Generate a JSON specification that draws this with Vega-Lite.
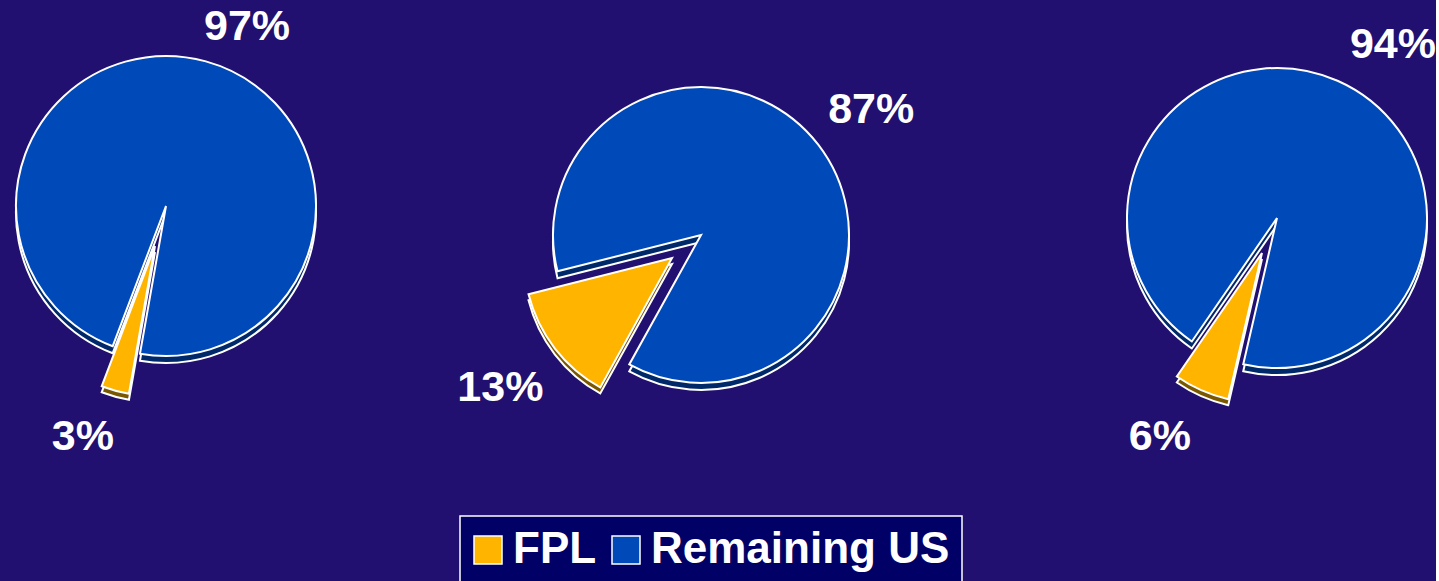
{
  "$schema": "https://vega.github.io/schema/vega-lite/v6.json",
  "background": "#21106f",
  "padding": {"left": 12, "top": 0, "right": 0, "bottom": 0},
  "bounds": "flush",
  "spacing": 276,
  "datasets": {
    "shares": [
      {"pie": "A", "series": "FPL", "value": 3, "label": "3%"},
      {"pie": "A", "series": "Remaining US", "value": 97, "label": "97%"},
      {"pie": "B", "series": "FPL", "value": 13, "label": "13%"},
      {"pie": "B", "series": "Remaining US", "value": 87, "label": "87%"},
      {"pie": "C", "series": "FPL", "value": 6, "label": "6%"},
      {"pie": "C", "series": "Remaining US", "value": 94, "label": "94%"}
    ]
  },
  "config": {
    "view": {"stroke": null},
    "legend": {
      "symbolType": "square",
      "symbolSize": 784,
      "symbolStrokeColor": "white",
      "symbolStrokeWidth": 1.5,
      "symbolOffset": -6,
      "labelColor": "white",
      "labelFont": "Liberation Sans",
      "labelFontSize": 44,
      "labelFontWeight": "bold",
      "labelLimit": 0,
      "labelOffset": 3,
      "columnPadding": 12,
      "padding": 12,
      "fillColor": "#000066",
      "strokeColor": "white",
      "strokeWidth": 1.5
    }
  },
  "hconcat": [
    {
      "width": 218,
      "height": 412,
      "data": {"name": "shares"},
      "transform": [
        {"filter": "datum.pie === 'A'"},
        {"stack": "value", "groupby": ["pie"], "sort": [{"field": "series", "order": "ascending"}], "as": ["t0", "t1"]}
      ],
      "resolve": {"scale": {"radius": "independent"}},
      "layer": [
        {
          "transform": [{"filter": "datum.series === 'Remaining US'"}],
          "mark": {"type": "arc", "radius": 150, "fill": "#00296a", "stroke": "white", "strokeWidth": 2, "yOffset": 7},
          "encoding": {
            "theta": {"field": "t0", "type": "quantitative", "scale": {"domain": [0, 100], "range": [3.3161, 9.5993]}},
            "theta2": {"field": "t1"}
          }
        },
        {
          "transform": [{"filter": "datum.series === 'FPL'"}],
          "mark": {"type": "arc", "radius": 150, "fill": "#7a5800", "stroke": "white", "strokeWidth": 2, "xOffset": -11, "yOffset": 46},
          "encoding": {
            "theta": {"field": "t0", "type": "quantitative", "scale": {"domain": [0, 100], "range": [3.3161, 9.5993]}},
            "theta2": {"field": "t1"}
          }
        },
        {
          "transform": [{"filter": "datum.series === 'Remaining US'"}],
          "mark": {"type": "arc", "radius": 150, "stroke": "white", "strokeWidth": 2},
          "encoding": {
            "theta": {"field": "t0", "type": "quantitative", "scale": {"domain": [0, 100], "range": [3.3161, 9.5993]}},
            "theta2": {"field": "t1"},
            "color": {"field": "series", "type": "nominal", "scale": {"domain": ["FPL", "Remaining US"], "range": ["#ffb400", "#0049b8"]}, "legend": {"orient": "none", "legendX": 403, "legendY": 516, "title": null, "direction": "horizontal"}}
          }
        },
        {
          "transform": [{"filter": "datum.series === 'FPL'"}],
          "mark": {"type": "arc", "radius": 150, "stroke": "white", "strokeWidth": 2, "xOffset": -11, "yOffset": 40},
          "encoding": {
            "theta": {"field": "t0", "type": "quantitative", "scale": {"domain": [0, 100], "range": [3.3161, 9.5993]}},
            "theta2": {"field": "t1"},
            "color": {"field": "series", "type": "nominal", "scale": {"domain": ["FPL", "Remaining US"], "range": ["#ffb400", "#0049b8"]}, "legend": {"orient": "none", "legendX": 403, "legendY": 516, "title": null, "direction": "horizontal"}}
          }
        },
        {
          "mark": {"type": "text", "dx": 29, "dy": 10, "font": "Liberation Sans", "fontSize": 43, "fontWeight": "bold", "fill": "white", "align": "center", "baseline": "middle"},
          "encoding": {
            "theta": {"field": "value", "type": "quantitative", "stack": true, "scale": {"domain": [0, 100], "range": [3.3161, 9.5993]}},
            "radius": {"field": "value", "type": "quantitative", "scale": {"type": "linear", "zero": false, "domain": [3, 97], "range": [0, 196]}},
            "detail": {"field": "series"},
            "order": {"field": "series", "sort": "ascending"},
            "text": {"condition": {"test": "datum.series === 'Remaining US'", "field": "label"}, "value": ""}
          }
        },
        {
          "mark": {"type": "text", "dx": -18, "dy": -5, "font": "Liberation Sans", "fontSize": 43, "fontWeight": "bold", "fill": "white", "align": "center", "baseline": "middle"},
          "encoding": {
            "theta": {"field": "value", "type": "quantitative", "stack": true, "scale": {"domain": [0, 100], "range": [3.3161, 9.5993]}},
            "radius": {"field": "value", "type": "quantitative", "scale": {"type": "linear", "zero": false, "domain": [3, 97], "range": [245, 0]}},
            "detail": {"field": "series"},
            "order": {"field": "series", "sort": "ascending"},
            "text": {"condition": {"test": "datum.series === 'FPL'", "field": "label"}, "value": ""}
          }
        }
      ]
    },
    {
      "width": 300,
      "height": 470,
      "data": {"name": "shares"},
      "transform": [
        {"filter": "datum.pie === 'B'"},
        {"stack": "value", "groupby": ["pie"], "sort": [{"field": "series", "order": "ascending"}], "as": ["t0", "t1"]}
      ],
      "resolve": {"scale": {"radius": "independent"}},
      "layer": [
        {
          "transform": [{"filter": "datum.series === 'Remaining US'"}],
          "mark": {"type": "arc", "radius": 148, "fill": "#00296a", "stroke": "white", "strokeWidth": 2, "yOffset": 7},
          "encoding": {
            "theta": {"field": "t0", "type": "quantitative", "scale": {"domain": [0, 100], "range": [3.6477, 9.9309]}},
            "theta2": {"field": "t1"}
          }
        },
        {
          "transform": [{"filter": "datum.series === 'FPL'"}],
          "mark": {"type": "arc", "radius": 148, "fill": "#7a5800", "stroke": "white", "strokeWidth": 2, "xOffset": -29, "yOffset": 29},
          "encoding": {
            "theta": {"field": "t0", "type": "quantitative", "scale": {"domain": [0, 100], "range": [3.6477, 9.9309]}},
            "theta2": {"field": "t1"}
          }
        },
        {
          "transform": [{"filter": "datum.series === 'Remaining US'"}],
          "mark": {"type": "arc", "radius": 148, "stroke": "white", "strokeWidth": 2},
          "encoding": {
            "theta": {"field": "t0", "type": "quantitative", "scale": {"domain": [0, 100], "range": [3.6477, 9.9309]}},
            "theta2": {"field": "t1"},
            "color": {"field": "series", "type": "nominal", "scale": {"domain": ["FPL", "Remaining US"], "range": ["#ffb400", "#0049b8"]}, "legend": {"orient": "none", "legendX": 403, "legendY": 516, "title": null, "direction": "horizontal"}}
          }
        },
        {
          "transform": [{"filter": "datum.series === 'FPL'"}],
          "mark": {"type": "arc", "radius": 148, "stroke": "white", "strokeWidth": 2, "xOffset": -29, "yOffset": 23},
          "encoding": {
            "theta": {"field": "t0", "type": "quantitative", "scale": {"domain": [0, 100], "range": [3.6477, 9.9309]}},
            "theta2": {"field": "t1"},
            "color": {"field": "series", "type": "nominal", "scale": {"domain": ["FPL", "Remaining US"], "range": ["#ffb400", "#0049b8"]}, "legend": {"orient": "none", "legendX": 403, "legendY": 516, "title": null, "direction": "horizontal"}}
          }
        },
        {
          "mark": {"type": "text", "dx": 3, "dy": 4, "font": "Liberation Sans", "fontSize": 43, "fontWeight": "bold", "fill": "white", "align": "center", "baseline": "middle"},
          "encoding": {
            "theta": {"field": "value", "type": "quantitative", "stack": true, "scale": {"domain": [0, 100], "range": [3.6477, 9.9309]}},
            "radius": {"field": "value", "type": "quantitative", "scale": {"type": "linear", "zero": false, "domain": [13, 87], "range": [0, 211]}},
            "detail": {"field": "series"},
            "order": {"field": "series", "sort": "ascending"},
            "text": {"condition": {"test": "datum.series === 'Remaining US'", "field": "label"}, "value": ""}
          }
        },
        {
          "mark": {"type": "text", "dx": -1, "dy": -1, "font": "Liberation Sans", "fontSize": 43, "fontWeight": "bold", "fill": "white", "align": "center", "baseline": "middle"},
          "encoding": {
            "theta": {"field": "value", "type": "quantitative", "stack": true, "scale": {"domain": [0, 100], "range": [3.6477, 9.9309]}},
            "radius": {"field": "value", "type": "quantitative", "scale": {"type": "linear", "zero": false, "domain": [13, 87], "range": [252, 0]}},
            "detail": {"field": "series"},
            "order": {"field": "series", "sort": "ascending"},
            "text": {"condition": {"test": "datum.series === 'FPL'", "field": "label"}, "value": ""}
          }
        }
      ]
    },
    {
      "width": 300,
      "height": 436,
      "data": {"name": "shares"},
      "transform": [
        {"filter": "datum.pie === 'C'"},
        {"stack": "value", "groupby": ["pie"], "sort": [{"field": "series", "order": "ascending"}], "as": ["t0", "t1"]}
      ],
      "resolve": {"scale": {"radius": "independent"}},
      "layer": [
        {
          "transform": [{"filter": "datum.series === 'Remaining US'"}],
          "mark": {"type": "arc", "radius": 150, "fill": "#00296a", "stroke": "white", "strokeWidth": 2, "yOffset": 7},
          "encoding": {
            "theta": {"field": "t0", "type": "quantitative", "scale": {"domain": [0, 100], "range": [3.3685, 9.6517]}},
            "theta2": {"field": "t1"}
          }
        },
        {
          "transform": [{"filter": "datum.series === 'FPL'"}],
          "mark": {"type": "arc", "radius": 150, "fill": "#7a5800", "stroke": "white", "strokeWidth": 2, "xOffset": -15, "yOffset": 41},
          "encoding": {
            "theta": {"field": "t0", "type": "quantitative", "scale": {"domain": [0, 100], "range": [3.3685, 9.6517]}},
            "theta2": {"field": "t1"}
          }
        },
        {
          "transform": [{"filter": "datum.series === 'Remaining US'"}],
          "mark": {"type": "arc", "radius": 150, "stroke": "white", "strokeWidth": 2},
          "encoding": {
            "theta": {"field": "t0", "type": "quantitative", "scale": {"domain": [0, 100], "range": [3.3685, 9.6517]}},
            "theta2": {"field": "t1"},
            "color": {"field": "series", "type": "nominal", "scale": {"domain": ["FPL", "Remaining US"], "range": ["#ffb400", "#0049b8"]}, "legend": {"orient": "none", "legendX": 403, "legendY": 516, "title": null, "direction": "horizontal"}}
          }
        },
        {
          "transform": [{"filter": "datum.series === 'FPL'"}],
          "mark": {"type": "arc", "radius": 150, "stroke": "white", "strokeWidth": 2, "xOffset": -15, "yOffset": 35},
          "encoding": {
            "theta": {"field": "t0", "type": "quantitative", "scale": {"domain": [0, 100], "range": [3.3685, 9.6517]}},
            "theta2": {"field": "t1"},
            "color": {"field": "series", "type": "nominal", "scale": {"domain": ["FPL", "Remaining US"], "range": ["#ffb400", "#0049b8"]}, "legend": {"orient": "none", "legendX": 403, "legendY": 516, "title": null, "direction": "horizontal"}}
          }
        },
        {
          "mark": {"type": "text", "dx": 32, "dy": 17, "font": "Liberation Sans", "fontSize": 43, "fontWeight": "bold", "fill": "white", "align": "center", "baseline": "middle"},
          "encoding": {
            "theta": {"field": "value", "type": "quantitative", "stack": true, "scale": {"domain": [0, 100], "range": [3.3685, 9.6517]}},
            "radius": {"field": "value", "type": "quantitative", "scale": {"type": "linear", "zero": false, "domain": [6, 94], "range": [0, 208]}},
            "detail": {"field": "series"},
            "order": {"field": "series", "sort": "ascending"},
            "text": {"condition": {"test": "datum.series === 'Remaining US'", "field": "label"}, "value": ""}
          }
        },
        {
          "mark": {"type": "text", "dx": -17, "dy": -8, "font": "Liberation Sans", "fontSize": 43, "fontWeight": "bold", "fill": "white", "align": "center", "baseline": "middle"},
          "encoding": {
            "theta": {"field": "value", "type": "quantitative", "stack": true, "scale": {"domain": [0, 100], "range": [3.3685, 9.6517]}},
            "radius": {"field": "value", "type": "quantitative", "scale": {"type": "linear", "zero": false, "domain": [6, 94], "range": [248, 0]}},
            "detail": {"field": "series"},
            "order": {"field": "series", "sort": "ascending"},
            "text": {"condition": {"test": "datum.series === 'FPL'", "field": "label"}, "value": ""}
          }
        }
      ]
    }
  ]
}
